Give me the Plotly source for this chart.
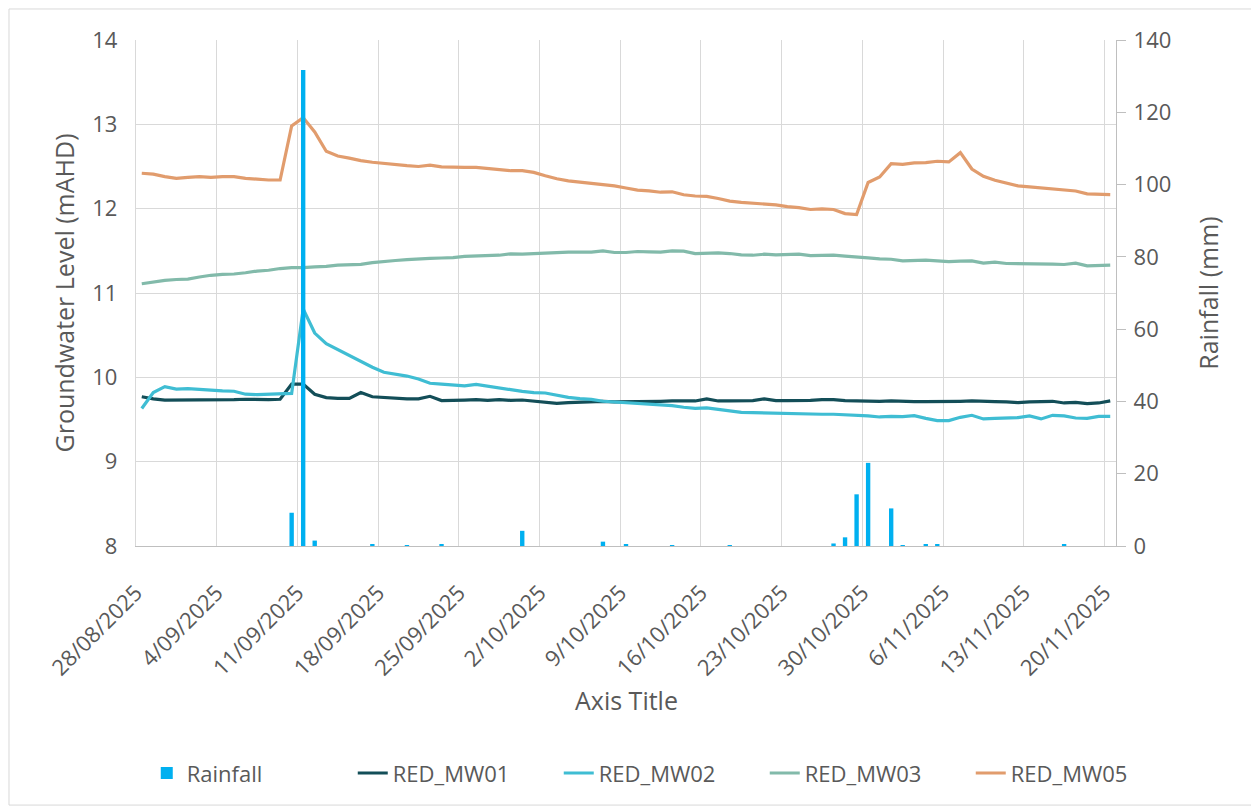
import pandas as pd
import plotly.graph_objects as go

# ---- data (daily, 28/08/2025 to 20/11/2025) ----
dates = pd.date_range("2025-08-28 12:00", "2025-11-20 12:00", freq="D")

rainfall = [
    0, 0, 0, 0, 0, 0, 0, 0, 0, 0, 0, 0, 0, 9.2, 131.7, 1.5, 0, 0, 0, 0,
    0.3, 0, 0, 0.1, 0, 0, 0.5, 0, 0, 0, 0, 0, 0, 4.2, 0, 0, 0, 0, 0, 0,
    1.2, 0, 0.3, 0, 0, 0, 0.1, 0, 0, 0, 0, 0.1, 0, 0, 0, 0, 0, 0, 0, 0,
    0.7, 2.4, 14.3, 23.0, 0, 10.4, 0.1, 0, 0.3, 0.5, 0, 0, 0, 0, 0, 0, 0, 0, 0, 0,
    0.5, 0, 0, 0, 0,
]

red_mw01 = [
    9.77, 9.745, 9.73, 9.73, 9.73, 9.73, 9.73, 9.735, 9.735, 9.74, 9.735, 9.735, 9.74,
    9.92, 9.92, 9.80, 9.76, 9.75, 9.75, 9.82, 9.77, 9.76, 9.755, 9.745, 9.745, 9.775,
    9.725, 9.725, 9.73,
    9.735, 9.727, 9.735, 9.727, 9.731, 9.716, 9.704, 9.692, 9.70, 9.708, 9.712, 9.716,
    9.708, 9.708, 9.712, 9.716, 9.716,
    9.72, 9.72, 9.72, 9.745, 9.72, 9.72, 9.72, 9.725, 9.745, 9.725, 9.725,
    9.723, 9.727, 9.735, 9.735, 9.723, 9.72, 9.712, 9.716, 9.72, 9.712, 9.712, 9.712,
    9.712, 9.708, 9.716, 9.72, 9.72, 9.712, 9.708, 9.70, 9.708, 9.712, 9.716, 9.696,
    9.704, 9.688, 9.696, 9.72,
]

red_mw02 = [
    9.63, 9.82, 9.89, 9.86, 9.865, 9.855, 9.845, 9.84, 9.835, 9.80, 9.795, 9.80, 9.80,
    9.81, 10.81, 10.525, 10.40, 10.33, 10.25, 10.19, 10.12, 10.06, 10.04, 10.015, 9.98,
    9.93, 9.92, 9.913, 9.90,
    9.917, 9.893, 9.873, 9.854, 9.834, 9.818, 9.814, 9.787, 9.763, 9.747, 9.739, 9.716,
    9.708, 9.70, 9.684, 9.676, 9.668, 9.664, 9.645, 9.633, 9.637, 9.621, 9.597, 9.585,
    9.582, 9.578, 9.57, 9.57,
    9.566, 9.562, 9.562, 9.562, 9.558, 9.55, 9.542, 9.53, 9.538, 9.534, 9.546, 9.514,
    9.487, 9.487, 9.526, 9.55, 9.507, 9.514, 9.518, 9.522, 9.542, 9.507, 9.55, 9.542,
    9.518, 9.514, 9.538, 9.538,
]

red_mw03 = [
    11.11, 11.13, 11.15, 11.16, 11.165, 11.19, 11.21, 11.22, 11.225, 11.24, 11.26, 11.27,
    11.29, 11.30, 11.30, 11.31, 11.315, 11.33, 11.335, 11.34, 11.36, 11.375, 11.385,
    11.395, 11.405, 11.41, 11.415, 11.42, 11.435,
    11.437, 11.44, 11.448, 11.464, 11.46, 11.468, 11.476, 11.484, 11.484, 11.484, 11.484,
    11.50, 11.48, 11.48, 11.492, 11.488, 11.484, 11.50, 11.496, 11.468, 11.476, 11.476,
    11.468, 11.452, 11.448, 11.46, 11.452, 11.452,
    11.46, 11.444, 11.444, 11.448, 11.437, 11.43, 11.417, 11.405, 11.40, 11.381, 11.389,
    11.389, 11.381, 11.373, 11.377, 11.381, 11.354, 11.366, 11.35, 11.35, 11.35, 11.346,
    11.342, 11.338, 11.354, 11.322, 11.322, 11.33,
]

red_mw05 = [
    12.42, 12.41, 12.38, 12.36, 12.37, 12.38, 12.37, 12.38, 12.38, 12.36, 12.35, 12.34,
    12.34,
    12.98, 13.08, 12.91, 12.68, 12.625, 12.60, 12.57, 12.55, 12.535, 12.52, 12.51, 12.50,
    12.515, 12.495, 12.49, 12.49,
    12.49, 12.475, 12.46, 12.45, 12.45, 12.43, 12.39, 12.355, 12.33, 12.315, 12.305,
    12.29, 12.27, 12.245, 12.22, 12.21, 12.195, 12.20, 12.165, 12.15, 12.145, 12.12,
    12.09, 12.075, 12.065, 12.055, 12.045, 12.025,
    12.013, 11.99, 11.997, 11.99, 11.942, 11.93, 12.31, 12.376, 12.534, 12.526, 12.542,
    12.546, 12.562, 12.554, 12.664, 12.47, 12.384, 12.337, 12.30, 12.27, 12.258, 12.246,
    12.234, 12.214, 12.21, 12.175, 12.167, 12.167,
]

series_names = ["RED_MW01", "RED_MW02", "RED_MW03", "RED_MW05"]
series_colors = ["#134E58", "#3FBDD3", "#82BAAA", "#E19C6D"]
series_values = [red_mw01, red_mw02, red_mw03, red_mw05]

GREY_TXT = "#595959"
FONT = "Open Sans"
GRID = "#D9D9D9"

fig = go.Figure()
fig.add_trace(go.Bar(
    x=dates, y=rainfall, name="Rainfall", yaxis="y2",
    marker=dict(color="#00B0F0", line=dict(width=0)),
    width=0.38 * 86400000,
))
for name, col, vals in zip(series_names, series_colors, series_values):
    fig.add_trace(go.Scatter(
        x=dates, y=vals, name=name, mode="lines",
        line=dict(color=col, width=3.2),
    ))

# page body adds an 8px offset, so the figure is sized to fit the window
fig.update_layout(
    width=1251, height=799,
    margin=dict(l=128, r=143, t=32, b=261, autoexpand=False),
    paper_bgcolor="white", plot_bgcolor="white",
    font=dict(family=FONT, color=GREY_TXT, size=22),
    showlegend=True,
    xaxis=dict(
        type="date", range=["2025-08-28", "2025-11-21"],
        tick0="2025-08-28", dtick=7 * 86400000, tickformat="%-d/%m/%Y",
        tickangle=-45, showgrid=True, gridcolor=GRID, gridwidth=1.4,
        showline=True, linecolor="#BFBFBF", linewidth=1.4, ticks="",
        ticklabelstandoff=24, automargin=False,
        tickfont=dict(size=22, color=GREY_TXT, family=FONT),
        zeroline=False,
    ),
    yaxis=dict(
        range=[8, 14], dtick=1, showgrid=True, gridcolor=GRID, gridwidth=1.4,
        showline=True, linecolor=GRID, linewidth=1.4, ticks="", zeroline=False,
        ticklabelstandoff=13, automargin=False,
        tickfont=dict(size=22, color=GREY_TXT, family=FONT),
        title=dict(text="Groundwater Level (mAHD)", font=dict(size=25, color=GREY_TXT, family=FONT), standoff=10),
    ),
    yaxis2=dict(
        overlaying="y", side="right", range=[0, 140], dtick=20, showgrid=False,
        showline=True, linecolor="#BFBFBF", linewidth=1.4, ticks="outside", ticklen=9,
        tickcolor="#BFBFBF", tickwidth=1.4, zeroline=False, automargin=False,
        ticklabelstandoff=3,
        tickfont=dict(size=22, color=GREY_TXT, family=FONT),
        title=dict(text="Rainfall (mm)", font=dict(size=25, color=GREY_TXT, family=FONT), standoff=30),
    ),
    legend=dict(
        orientation="h", x=1.062, xanchor="right", y=-0.449, yanchor="middle",
        entrywidth=161, font=dict(size=22, color=GREY_TXT, family=FONT),
        bgcolor="rgba(0,0,0,0)",
    ),
    annotations=[dict(
        text="Axis Title", xref="paper", yref="paper", x=0.5, y=-0.3043,
        xanchor="center", yanchor="middle", showarrow=False,
        font=dict(size=25, color=GREY_TXT, family=FONT),
    )],
    shapes=[dict(
        type="rect", xref="paper", yref="paper",
        x0=-0.1296, x1=1.1429, y0=-0.512, y1=1.0613,
        line=dict(color=GRID, width=1), fillcolor="rgba(0,0,0,0)", layer="below",
    )],
)

fig.write_html("out.html")
